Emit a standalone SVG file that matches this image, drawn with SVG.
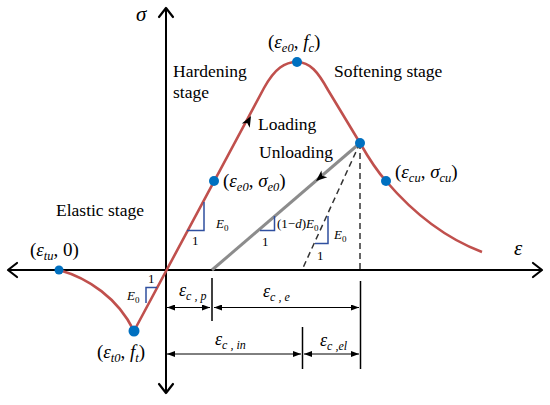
<svg xmlns="http://www.w3.org/2000/svg" width="550" height="405" viewBox="0 0 550 405" font-family="'Liberation Serif', 'DejaVu Serif', serif">
<style>
text{font-family:'Liberation Serif','DejaVu Serif',serif;fill:#000}
.lab{font-size:17.5px}
.m{font-size:19px}
.i{font-style:italic}
.s{font-size:12.5px;font-style:italic}
.d{font-size:18px}
.ds{font-size:12px;font-style:italic}
.sm{font-size:13px}
.z{font-size:9px}
.axis{stroke:#000;stroke-width:2;fill:none}
.chev{stroke:#000;stroke-width:2.2;fill:none;stroke-linecap:round;stroke-linejoin:round}
.red{stroke:#C0504D;stroke-width:2.6;fill:none;stroke-linejoin:round}
.gray{stroke:#8C8C8C;stroke-width:3;fill:none}
.dash{stroke:#333;stroke-width:1.5;stroke-dasharray:6,4;fill:none}
.tri{stroke:#2F4F9F;stroke-width:1.5;fill:none}
.tick{stroke:#000;stroke-width:1.5}
.dim{stroke:#000;stroke-width:1;marker-start:url(#ah);marker-end:url(#ah)}
.dot{fill:#0070C0}
</style>
<defs>
<marker id="ah" viewBox="0 0 8 6" refX="8" refY="3" markerWidth="8" markerHeight="6" markerUnits="userSpaceOnUse" orient="auto-start-reverse">
<path d="M0,0 L8,3 L0,6 Z" fill="#000"/>
</marker>
<path id="fa" d="M0,0 L-11,-4.5 L-8,0 L-11,4.5 Z" fill="#000"/>
</defs>
<g id="axes">
<line class="axis" x1="8" y1="270" x2="542" y2="270"/>
<line class="axis" x1="166" y1="8" x2="166" y2="393"/>
<path class="chev" d="M533,263 L542,270 L533,277"/>
<path class="chev" d="M17,263 L8,270 L17,277"/>
<path class="chev" d="M159,17 L166,8 L173,17"/>
<path class="chev" d="M159,384 L166,393 L173,384"/>
<text class="i" x="136" y="21" font-size="21">σ</text>
<text class="i" x="514" y="255" font-size="21">ε</text>
</g>
<g id="connectors">
<path id="curve" class="red" d="M59,270 C88,278 118,298 134,331 L264,88 C275,68 285,62 297,62 C310,62 318,72 328,90 L360,143 C368,157 376,170 386,181 C415,215 445,238 482,252"/>
<line id="unloading" class="gray" x1="360" y1="143" x2="212" y2="270"/>
<line class="dash" x1="360" y1="143" x2="360" y2="270"/>
<line class="dash" x1="360" y1="143" x2="302" y2="270"/>
<use href="#fa" transform="translate(251,116) rotate(-61.7)"/>
<use href="#fa" transform="translate(316,181) rotate(139.4)"/>
<path class="tri" d="M187,230.5 L204,230.5 L204,202"/>
<path class="tri" d="M260,230.5 L274.5,230.5 L274.5,216"/>
<path class="tri" d="M315,243.5 L328,243.5 L328,216"/>
<path class="tri" d="M157,287.5 L146,287.5 L146,303"/>
<line class="tick" x1="212" y1="278" x2="212" y2="321"/>
<line class="tick" x1="360.5" y1="281" x2="360.5" y2="369"/>
<line class="tick" x1="302.5" y1="327" x2="302.5" y2="369"/>
<line class="dim" x1="167" y1="307.5" x2="210" y2="307.5"/>
<line class="dim" x1="214" y1="307.5" x2="359" y2="307.5"/>
<line class="dim" x1="167" y1="354" x2="301" y2="354"/>
<line class="dim" x1="304" y1="354" x2="359" y2="354"/>
</g>
<g id="labels">
<text class="lab" x="56" y="216">Elastic stage</text>
<text class="lab" x="173" y="77">Hardening</text>
<text class="lab" x="173" y="98">stage</text>
<text class="lab" x="334" y="77">Softening stage</text>
<text class="lab" x="258" y="130">Loading</text>
<text class="lab" x="259" y="158">Unloading</text>
<text class="sm" x="216" y="228"><tspan class="i">E</tspan><tspan class="z" dy="3">0</tspan></text>
<text class="sm" x="192" y="245">1</text>
<text class="sm" x="277" y="228">(1−<tspan class="i">d</tspan>)<tspan class="i">E</tspan><tspan class="z" dy="3">0</tspan></text>
<text class="sm" x="262" y="246">1</text>
<text class="sm" x="334" y="239"><tspan class="i">E</tspan><tspan class="z" dy="3">0</tspan></text>
<text class="sm" x="317" y="260">1</text>
<text class="sm" x="127" y="300"><tspan class="i">E</tspan><tspan class="z" dy="3">0</tspan></text>
<text class="sm" x="148" y="283">1</text>
<text class="d" x="179" y="296"><tspan class="i">ε</tspan><tspan class="ds" dy="4">c , p</tspan></text>
<text class="d" x="263" y="297"><tspan class="i">ε</tspan><tspan class="ds" dy="4">c , e</tspan></text>
<text class="d" x="215" y="345"><tspan class="i">ε</tspan><tspan class="ds" dy="4">c , in</tspan></text>
<text class="d" x="320" y="346"><tspan class="i">ε</tspan><tspan class="ds" dy="4">c ,el</tspan></text>
</g>
<g id="node-tu">
<circle class="dot" cx="59" cy="270" r="4.5"/>
<text class="m" x="30" y="256">(<tspan class="i">ε</tspan><tspan class="s" dy="4">tu</tspan><tspan dy="-4">, 0)</tspan></text>
</g>
<g id="node-t0">
<circle class="dot" cx="134" cy="331" r="5.5"/>
<text class="m" x="97" y="358">(<tspan class="i">ε</tspan><tspan class="s" dy="4">t0</tspan><tspan dy="-4">, </tspan><tspan class="i">f</tspan><tspan class="s" dy="4">t</tspan><tspan dy="-4">)</tspan></text>
</g>
<g id="node-e0">
<circle class="dot" cx="214" cy="181" r="5"/>
<text class="m" x="223" y="187">(<tspan class="i">ε</tspan><tspan class="s" dy="4">e0</tspan><tspan dy="-4">, </tspan><tspan class="i">σ</tspan><tspan class="s" dy="4">e0</tspan><tspan dy="-4">)</tspan></text>
</g>
<g id="node-peak">
<circle class="dot" cx="297" cy="62" r="5"/>
<text class="m" x="268" y="48">(<tspan class="i">ε</tspan><tspan class="s" dy="4">e0</tspan><tspan dy="-4">, </tspan><tspan class="i">f</tspan><tspan class="s" dy="4">c</tspan><tspan dy="-4">)</tspan></text>
</g>
<g id="node-unload">
<circle class="dot" cx="360" cy="143" r="5"/>
</g>
<g id="node-cu">
<circle class="dot" cx="386" cy="181" r="5"/>
<text class="m" x="395" y="178">(<tspan class="i">ε</tspan><tspan class="s" dy="4">cu</tspan><tspan dy="-4">, </tspan><tspan class="i">σ</tspan><tspan class="s" dy="4">cu</tspan><tspan dy="-4">)</tspan></text>
</g>
</svg>
